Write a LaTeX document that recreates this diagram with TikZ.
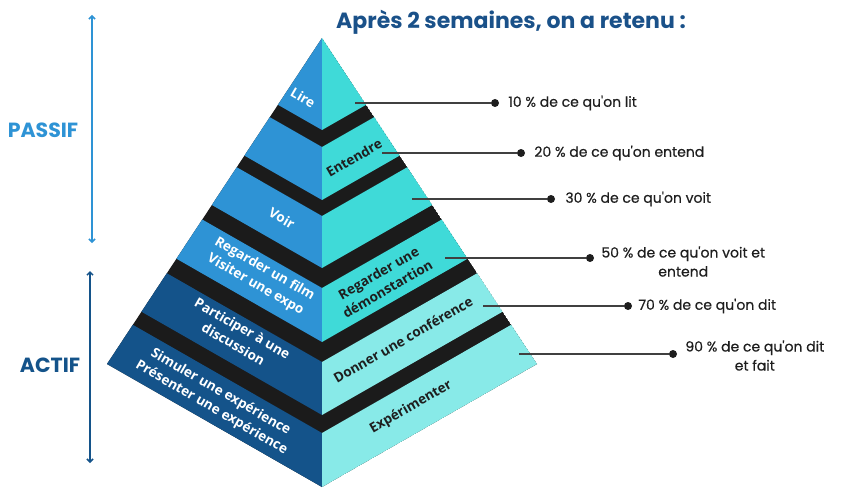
\documentclass[tikz,border=0pt]{standalone}
\usepackage{fontspec}
\setmainfont{Poppins}
\newfontfamily\pyrfont{Open Sans}
\newfontfamily\pctfont{Poppins}[FakeBold=0.5]
\usetikzlibrary{arrows.meta,positioning,calc}
\definecolor{lightblue}{HTML}{2E93D5}
\definecolor{darkblue}{HTML}{14538A}
\definecolor{turq}{HTML}{3FDAD8}
\definecolor{paleturq}{HTML}{88EAE8}
\definecolor{band}{HTML}{1B1B1B}
\definecolor{titleblue}{HTML}{1A5189}
\definecolor{ink}{HTML}{1E1E1E}

\begin{document}
\begin{tikzpicture}[x=1pt, y=-1pt,
  lefttxt/.style={font=\pyrfont\bfseries\fontsize{13.5}{18}\selectfont, text=white, align=center, rotate=-30},
  righttxt/.style={font=\pyrfont\bfseries\fontsize{13.5}{18}\selectfont, text=ink, align=center, rotate=30},
  pct/.style={font=\pctfont\fontsize{14}{19}\selectfont, text=ink, align=center, inner sep=0pt},
  dot/.style={circle, fill=ink, inner sep=0pt, minimum size=8pt},
  conn/.style={draw=ink!85, line width=1.3pt},
  span/.style={line width=1.5pt, {Straight Barb[length=3pt,width=6pt]}-{Straight Barb[length=3pt,width=6pt]}},
  side/.style={font=\bfseries\fontsize{20.5}{24}\selectfont}
]
  \useasboundingbox (0,0) rectangle (850,500);
  % title
  \node[font=\bfseries\fontsize{22}{26}\selectfont, text=titleblue] (title) at (511,22) {Après 2 semaines, on a retenu :};
  % pyramid
  \begin{scope}
    \clip (322,38) -- (107,364) -- (322,487) -- (537,364) -- cycle;
    \fill[band] (322,38) -- (107,364) -- (322,487) -- (537,364) -- cycle;
    \foreach \yt/\yb/\lc/\rc in {38/130/lightblue/turq, 147/200/lightblue/turq, 216/268/lightblue/turq,
        288/342/lightblue/turq, 362/415/darkblue/paleturq, 433/487/darkblue/paleturq}{
      \fill[\lc] (322,\yt) -- (22,\yt-171.6) -- (22,\yb-171.6) -- (322,\yb) -- cycle;
      \fill[\rc] (322,\yt) -- (622,\yt-171.6) -- (622,\yb-171.6) -- (322,\yb) -- cycle;
    }
  \end{scope}
  \node[lefttxt] (lire) at (303,98) {Lire};
  \node[righttxt] (entendre) at (354,158) {Entendre};
  \node[lefttxt] (voir) at (282,218) {Voir};
  \node[lefttxt] (film) at (260,277) {Regarder un film\\Visiter une expo};
  \node[righttxt] (demo) at (383,281) {Regarder une\\démonstartion};
  \node[lefttxt] (discu) at (238,336) {Participer à une\\discussion};
  \node[righttxt] (conf) at (403,340) {Donner une conférence};
  \node[lefttxt] (simul) at (216,400) {Simuler une expérience\\Présenter une expérience};
  \node[righttxt] (exper) at (411,407) {Expérimenter};
  % retention
  \coordinate (s1) at (355,103); \node[dot] (d1) at (495,103) {};
  \coordinate (s2) at (382,153); \node[dot] (d2) at (521,153) {};
  \coordinate (s3) at (412,199); \node[dot] (d3) at (551,199) {};
  \coordinate (s4) at (445,258); \node[dot] (d4) at (590,258) {};
  \coordinate (s5) at (483,306); \node[dot] (d5) at (628,306) {};
  \coordinate (s6) at (519,354); \node[dot] (d6) at (673,354) {};
  \foreach \i in {1,...,6} \draw[conn] (s\i) -- (d\i);
  \node[pct, right=9pt of d1] (p1) {10 \% de ce qu'on lit};
  \node[pct, right=9pt of d2] (p2) {20 \% de ce qu'on entend};
  \node[pct, right=10pt of d3] (p3) {30 \% de ce qu'on voit};
  \node[pct, right=7pt of d4, yshift=-3.5pt] (p4) {50 \% de ce qu'on voit et\\entend};
  \node[pct, right=6pt of d5] (p5) {70 \% de ce qu'on dit};
  \node[pct, right=8pt of d6, yshift=-1.5pt] (p6) {90 \% de ce qu'on dit\\et fait};
  % passif / actif
  \node[side, lightblue] (passif) at (43,130) {PASSIF};
  \node[side, darkblue] (actif) at (50,365) {ACTIF};
  \coordinate (pTop) at (92,15); \coordinate (pBot) at (92,243);
  \coordinate (aTop) at (90,271); \coordinate (aBot) at (90,463);
  \draw[span, lightblue] (pTop) -- (pBot);
  \draw[span, darkblue] (aTop) -- (aBot);
\end{tikzpicture}
\end{document}
